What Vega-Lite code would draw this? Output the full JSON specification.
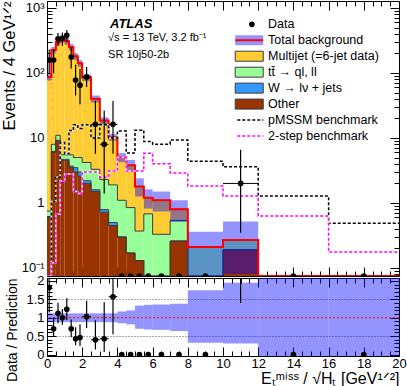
{
 "$schema": "https://vega.github.io/schema/vega-lite/v6.json",
 "padding": {"left": 0, "top": 0, "right": 0, "bottom": 0},
 "spacing": 2,
 "bounds": "flush",
 "config": {
  "font": "Liberation Sans",
  "view": {"stroke": "black", "strokeWidth": 1},
  "axis": {"labelFont": "Liberation Sans", "titleFont": "Liberation Sans", "labelFontSize": 13, "titleFontSize": 14, "titleFontWeight": "normal", "labelColor": "black", "titleColor": "black", "tickColor": "black", "domain": false, "grid": false, "labelFlush": false, "zindex": 1}
 },
 "datasets": {
  "bins": [
   {"i":0,"lo":0,"hi":0.25,"x":0.125,"data":158,"dlo":99,"dhi":229,"other":0.6,"wjets":0.02,"ttbar":0.13,"multijet":86.25,"blo":76.6,"bhi":97.4,"pm":0.05,"ts":0.05,"r":1.82,"rlo":1.14,"rhi":2.63,"rblo":0.88,"rbhi":1.12},
   {"i":1,"lo":0.25,"hi":0.5,"x":0.375,"data":158,"dlo":99,"dhi":229,"other":6,"wjets":0.2,"ttbar":1.8,"multijet":218,"blo":199,"bhi":253,"pm":1.05,"ts":0.12,"r":0.70,"rlo":0.49,"rhi":1.0,"rblo":0.88,"rbhi":1.12},
   {"i":2,"lo":0.5,"hi":0.75,"x":0.625,"data":335,"dlo":262,"dhi":413,"other":9,"wjets":0.2,"ttbar":1.8,"multijet":289,"blo":264,"bhi":336,"pm":2.5,"ts":0.67,"r":1.12,"rlo":0.85,"rhi":1.41,"rblo":0.88,"rbhi":1.12},
   {"i":3,"lo":0.75,"hi":1,"x":0.875,"data":340,"dlo":263,"dhi":419,"other":4.5,"wjets":0.2,"ttbar":0.8,"multijet":334.5,"blo":299,"bhi":381,"pm":8.5,"ts":2.2,"r":1.0,"rlo":0.81,"rhi":1.24,"rblo":0.88,"rbhi":1.12},
   {"i":4,"lo":1,"hi":1.25,"x":1.125,"data":380,"dlo":300,"dhi":460,"other":4.5,"wjets":0.2,"ttbar":0.8,"multijet":303.5,"blo":272,"bhi":346,"pm":5.7,"ts":2.8,"r":1.23,"rlo":0.94,"rhi":1.53,"rblo":0.88,"rbhi":1.12},
   {"i":5,"lo":1.25,"hi":1.5,"x":1.375,"data":176,"dlo":117,"dhi":246,"other":3.5,"wjets":0.2,"ttbar":1.8,"multijet":245.5,"blo":221,"bhi":281,"pm":13,"ts":2.8,"r":0.70,"rlo":0.47,"rhi":0.95,"rblo":0.88,"rbhi":1.12},
   {"i":6,"lo":1.5,"hi":1.75,"x":1.625,"data":78,"dlo":45,"dhi":134,"other":3.0,"wjets":0.5,"ttbar":1.5,"multijet":176,"blo":159,"bhi":203,"pm":16,"ts":1.5,"r":0.43,"rlo":0.25,"rhi":0.74,"rblo":0.88,"rbhi":1.12},
   {"i":7,"lo":1.75,"hi":2,"x":1.875,"data":65,"dlo":33,"dhi":115,"other":2.6,"wjets":0.4,"ttbar":2.0,"multijet":136,"blo":124,"bhi":158,"pm":14,"ts":1.4,"r":0.46,"rlo":0.23,"rhi":0.82,"rblo":0.88,"rbhi":1.12},
   {"i":8,"lo":2,"hi":2.5,"x":2.25,"data":87,"dlo":61,"dhi":124,"other":2.0,"wjets":0.2,"ttbar":2.0,"multijet":80.8,"blo":75,"bhi":95,"pm":16,"ts":3.0,"r":1.03,"rlo":0.72,"rhi":1.46,"rblo":0.88,"rbhi":1.12},
   {"i":9,"lo":2.5,"hi":3,"x":2.75,"data":16.2,"dlo":5.7,"dhi":37,"other":1.5,"wjets":0.1,"ttbar":1.7,"multijet":36.7,"blo":35,"bhi":45,"pm":10,"ts":3.0,"r":0.40,"rlo":0.14,"rhi":0.93,"rblo":0.88,"rbhi":1.12},
   {"i":10,"lo":3,"hi":3.5,"x":3.25,"data":8.0,"dlo":1.4,"dhi":26.4,"other":0.72,"wjets":0.07,"ttbar":1.5,"multijet":16.3,"blo":16.4,"bhi":20.8,"pm":16,"ts":2.5,"r":0.43,"rlo":0.07,"rhi":1.42,"rblo":0.88,"rbhi":1.12},
   {"i":11,"lo":3.5,"hi":4,"x":3.75,"data":16.2,"dlo":5.7,"dhi":37,"other":0.45,"wjets":0.05,"ttbar":1.4,"multijet":8.4,"blo":9.1,"bhi":11.5,"pm":10,"ts":3.1,"r":1.57,"rlo":0.55,"rhi":3.6,"rblo":0.88,"rbhi":1.12},
   {"i":12,"lo":4,"hi":4.5,"x":4.25,"data":0,"other":0.3,"wjets":0,"ttbar":0.8,"multijet":3.9,"blo":4.25,"bhi":5.85,"pm":12.8,"ts":5.0,"r":0,"rblo":0.85,"rbhi":1.17},
   {"i":13,"lo":4.5,"hi":5,"x":4.75,"data":0,"other":0.17,"wjets":0,"ttbar":0.68,"multijet":2.95,"blo":3.1,"bhi":4.6,"pm":5.9,"ts":3.1,"r":0,"rblo":0.82,"rbhi":1.2},
   {"i":14,"lo":5,"hi":5.5,"x":5.25,"data":0,"other":0.13,"wjets":0,"ttbar":0.24,"multijet":1.43,"blo":1.26,"bhi":2.4,"pm":13.2,"ts":3.1,"r":0,"rblo":0.7,"rbhi":1.33},
   {"i":15,"lo":5.5,"hi":6,"x":5.75,"data":0,"other":0,"wjets":0,"ttbar":0.68,"multijet":0.52,"blo":0.82,"bhi":1.62,"pm":8.8,"ts":5.8,"r":0,"rblo":0.68,"rbhi":1.35},
   {"i":16,"lo":6,"hi":7,"x":6.5,"data":0,"other":0,"wjets":0,"ttbar":0.33,"multijet":0.77,"blo":0.74,"bhi":1.5,"pm":8.0,"ts":4.0,"r":0,"rblo":0.67,"rbhi":1.36},
   {"i":17,"lo":7,"hi":8,"x":7.5,"data":0,"other":0.26,"wjets":0,"ttbar":0.28,"multijet":0.26,"blo":0.51,"bhi":1.1,"pm":9.3,"ts":2.9,"r":0,"rblo":0.64,"rbhi":1.38},
   {"i":18,"lo":8,"hi":10,"x":9,"data":0,"other":0,"wjets":0,"ttbar":0.21,"multijet":0,"blo":0.067,"bhi":0.36,"pm":4.4,"ts":1.83,"r":0,"rblo":0.32,"rbhi":1.75},
   {"i":19,"lo":10,"hi":12,"x":11,"data":2.0,"dlo":0.35,"dhi":6.6,"other":0.19,"wjets":0,"ttbar":0.08,"multijet":0,"blo":0.081,"bhi":0.52,"pm":3.6,"ts":1.28,"r":7.4,"rlo":1.4,"rhi":24,"rblo":0.3,"rbhi":1.95},
   {"i":20,"lo":12,"hi":16,"x":14,"data":0,"other":0,"wjets":0,"ttbar":0,"multijet":0,"pm":1.28,"ts":0.63,"r":0,"rblo":-0.05,"rbhi":2.2},
   {"i":21,"lo":16,"hi":20,"x":18,"data":0,"other":0,"wjets":0,"ttbar":0,"multijet":0,"pm":0.49,"ts":0.176,"r":0,"rblo":-0.05,"rbhi":2.2}
  ],
  "leg": [
   {"label": "Data"}, {"label": "Total background"}, {"label": "Multijet (=6-jet data)"}, {"label": "tt̄ → ql, ll"}, {"label": "W → lν + jets"}, {"label": "Other"}, {"label": "pMSSM benchmark"}, {"label": "2-step benchmark"}
  ]
 },
 "vconcat": [
  {
   "width": 352, "height": 275,
   "resolve": {"scale": {"y": "independent"}, "axis": {"x": "independent"}},
   "layer": [
    {
     "data": {"name": "bins"},
     "layer": [
      {
       "transform": [{"fold": ["other", "wjets", "ttbar", "multijet"], "as": ["comp", "val"]}, {"stack": "val", "groupby": ["i"], "as": ["v0", "v1"]}],
       "mark": {"type": "rect", "clip": true},
       "encoding": {
        "x": {"field": "lo", "type": "quantitative", "scale": {"domain": [0, 20], "nice": false, "zero": false},
         "axis": {"values": [0,2,4,6,8,10,12,14,16,18,20], "tickCount": 100, "labels": false, "title": null, "tickSize": -9}},
        "x2": {"field": "hi"},
        "y": {"field": "v1", "type": "quantitative", "scale": {"type": "log", "domain": [0.0753, 1281], "clamp": true, "nice": false},
         "axis": {"values": [0.1,1,10,100,1000], "tickCount": 100,
          "labelExpr": "datum.value == 1000 ? '10³' : datum.value == 100 ? '10²' : datum.value == 10 ? '10' : datum.value == 1 ? '1' : '10⁻¹'",
          "tickSize": -9, "labelPadding": 12, "title": "Events / 4 GeV¹ᐟ²", "titleFontSize": 16.5, "titleAnchor": "end", "titleX": -38, "titleBaseline": "middle", "titleAngle": -90}},
        "y2": {"field": "v0"},
        "fill": {"field": "comp", "type": "nominal", "scale": {"domain": ["other", "wjets", "ttbar", "multijet"], "range": ["#993300", "#3399ff", "#99ff99", "#ffcc33"]}, "legend": null}
       }
      },
      {
       "transform": [{"fold": ["other", "wjets", "ttbar", "multijet"], "as": ["comp", "val"]}, {"stack": "val", "groupby": ["i"], "as": ["v0", "v1"]}, {"fold": ["lo", "hi"], "as": ["edge", "xv"]}],
       "mark": {"type": "line", "clip": true, "stroke": "#3a3a3a", "strokeWidth": 1},
       "encoding": {"x": {"field": "xv", "type": "quantitative"}, "y": {"field": "v1", "type": "quantitative"}, "detail": {"field": "comp"}, "order": [{"field": "i", "type": "quantitative"}, {"field": "edge", "type": "nominal", "sort": "descending"}]}
      },
      {
       "transform": [{"filter": "isValid(datum.bhi)"}],
       "mark": {"type": "rect", "clip": true, "fill": "#0000ff", "fillOpacity": 0.42},
       "encoding": {"x": {"field": "lo", "type": "quantitative"}, "x2": {"field": "hi"}, "y": {"field": "blo", "type": "quantitative"}, "y2": {"field": "bhi"}}
      },
      {
       "transform": [{"fold": ["other", "wjets", "ttbar", "multijet"], "as": ["comp", "val"]}, {"stack": "val", "groupby": ["i"], "as": ["v0", "v1"]}, {"filter": "datum.comp == 'multijet'"}, {"fold": ["lo", "hi"], "as": ["edge", "xv"]}],
       "mark": {"type": "line", "clip": true, "stroke": "#ff0000", "strokeWidth": 2},
       "encoding": {"x": {"field": "xv", "type": "quantitative"}, "y": {"field": "v1", "type": "quantitative"}, "order": [{"field": "i", "type": "quantitative"}, {"field": "edge", "type": "nominal", "sort": "descending"}]}
      },
      {
       "transform": [{"fold": ["lo", "hi"], "as": ["edge", "xv"]}],
       "mark": {"type": "line", "clip": true, "stroke": "white", "strokeWidth": 1.5},
       "encoding": {"x": {"field": "xv", "type": "quantitative"}, "y": {"field": "pm", "type": "quantitative"}, "order": [{"field": "i", "type": "quantitative"}, {"field": "edge", "type": "nominal", "sort": "descending"}]}
      },
      {
       "transform": [{"fold": ["lo", "hi"], "as": ["edge", "xv"]}],
       "mark": {"type": "line", "clip": true, "stroke": "black", "strokeWidth": 1.5, "strokeDash": [3, 2]},
       "encoding": {"x": {"field": "xv", "type": "quantitative"}, "y": {"field": "pm", "type": "quantitative"}, "order": [{"field": "i", "type": "quantitative"}, {"field": "edge", "type": "nominal", "sort": "descending"}]}
      },
      {
       "transform": [{"fold": ["lo", "hi"], "as": ["edge", "xv"]}],
       "mark": {"type": "line", "clip": true, "stroke": "white", "strokeWidth": 1.5},
       "encoding": {"x": {"field": "xv", "type": "quantitative"}, "y": {"field": "ts", "type": "quantitative"}, "order": [{"field": "i", "type": "quantitative"}, {"field": "edge", "type": "nominal", "sort": "descending"}]}
      },
      {
       "transform": [{"fold": ["lo", "hi"], "as": ["edge", "xv"]}],
       "mark": {"type": "line", "clip": true, "stroke": "#ff00ff", "strokeWidth": 1.5, "strokeDash": [3, 2]},
       "encoding": {"x": {"field": "xv", "type": "quantitative"}, "y": {"field": "ts", "type": "quantitative"}, "order": [{"field": "i", "type": "quantitative"}, {"field": "edge", "type": "nominal", "sort": "descending"}]}
      },
      {
       "transform": [{"filter": "datum.data > 0"}],
       "mark": {"type": "rule", "clip": true, "stroke": "black", "strokeWidth": 1},
       "encoding": {"x": {"field": "lo", "type": "quantitative"}, "x2": {"field": "hi"}, "y": {"field": "data", "type": "quantitative"}}
      },
      {
       "transform": [{"filter": "isValid(datum.dlo)"}],
       "mark": {"type": "rule", "clip": true, "stroke": "black", "strokeWidth": 1.2},
       "encoding": {"x": {"field": "x", "type": "quantitative"}, "y": {"field": "dlo", "type": "quantitative"}, "y2": {"field": "dhi"}}
      },
      {
       "mark": {"type": "point", "clip": true, "filled": true, "fill": "black", "opacity": 1, "size": 32, "shape": "circle"},
       "encoding": {"x": {"field": "x", "type": "quantitative"}, "y": {"field": "data", "type": "quantitative"}}
      },
      {
       "data": {"values": [{}]},
       "mark": {"type": "text", "text": "ATLAS", "fontWeight": "bold", "fontStyle": "italic", "fontSize": 13, "align": "left", "baseline": "alphabetic"},
       "encoding": {"x": {"datum": 3.58, "type": "quantitative"}, "y": {"datum": 497, "type": "quantitative"}}
      },
      {
       "data": {"values": [{}]},
       "mark": {"type": "text", "text": "√s = 13 TeV, 3.2 fb⁻¹", "fontSize": 11, "align": "left", "baseline": "alphabetic"},
       "encoding": {"x": {"datum": 3.47, "type": "quantitative"}, "y": {"datum": 309, "type": "quantitative"}}
      },
      {
       "data": {"values": [{}]},
       "mark": {"type": "text", "text": "SR 10j50-2b", "fontSize": 11, "align": "left", "baseline": "alphabetic"},
       "encoding": {"x": {"datum": 3.47, "type": "quantitative"}, "y": {"datum": 170, "type": "quantitative"}}
      }
     ]
    },
    {
     "data": {"name": "leg"},
     "layer": [
      {
       "mark": {"type": "text", "align": "left", "baseline": "middle", "fontSize": 12.5},
       "encoding": {"x": {"datum": 12.56, "type": "quantitative", "axis": null}, "y": {"field": "label", "type": "nominal", "scale": {"type": "point", "domain": ["Data", "Total background", "Multijet (=6-jet data)", "tt̄ → ql, ll", "W → lν + jets", "Other", "pMSSM benchmark", "2-step benchmark"], "range": [23.3, 135], "padding": 0}, "axis": null}, "text": {"field": "label"}}
      },
      {
       "transform": [{"filter": "datum.label == 'Data'"}],
       "mark": {"type": "point", "filled": true, "fill": "black", "opacity": 1, "size": 32, "shape": "circle"},
       "encoding": {"x": {"datum": 11.64, "type": "quantitative", "axis": null}, "y": {"field": "label", "type": "nominal"}}
      },
      {
       "transform": [{"filter": "datum.label == 'Total background'"}],
       "mark": {"type": "point", "filled": true, "fill": "#0000ff", "fillOpacity": 0.42, "opacity": 1, "strokeWidth": 0, "size": 784, "shape": "M-1,-0.357L1,-0.357L1,0.357L-1,0.357Z"},
       "encoding": {"x": {"datum": 11.49, "type": "quantitative", "axis": null}, "y": {"field": "label", "type": "nominal"}}
      },
      {
       "transform": [{"filter": "datum.label == 'Total background'"}],
       "mark": {"type": "point", "filled": false, "stroke": "#ff0000", "opacity": 1, "strokeWidth": 2, "size": 784, "shape": "M-1,0L1,0"},
       "encoding": {"x": {"datum": 11.49, "type": "quantitative", "axis": null}, "y": {"field": "label", "type": "nominal"}}
      },
      {
       "transform": [{"filter": "datum.label == 'Multijet (=6-jet data)'"}],
       "mark": {"type": "point", "filled": true, "fill": "#ffcc33", "stroke": "#3a3a3a", "strokeWidth": 1, "opacity": 1, "size": 784, "shape": "M-1,-0.357L1,-0.357L1,0.357L-1,0.357Z"},
       "encoding": {"x": {"datum": 11.49, "type": "quantitative", "axis": null}, "y": {"field": "label", "type": "nominal"}}
      },
      {
       "transform": [{"filter": "datum.label == 'tt̄ → ql, ll'"}],
       "mark": {"type": "point", "filled": true, "fill": "#99ff99", "stroke": "#3a3a3a", "strokeWidth": 1, "opacity": 1, "size": 784, "shape": "M-1,-0.357L1,-0.357L1,0.357L-1,0.357Z"},
       "encoding": {"x": {"datum": 11.49, "type": "quantitative", "axis": null}, "y": {"field": "label", "type": "nominal"}}
      },
      {
       "transform": [{"filter": "datum.label == 'W → lν + jets'"}],
       "mark": {"type": "point", "filled": true, "fill": "#3399ff", "stroke": "#3a3a3a", "strokeWidth": 1, "opacity": 1, "size": 784, "shape": "M-1,-0.357L1,-0.357L1,0.357L-1,0.357Z"},
       "encoding": {"x": {"datum": 11.49, "type": "quantitative", "axis": null}, "y": {"field": "label", "type": "nominal"}}
      },
      {
       "transform": [{"filter": "datum.label == 'Other'"}],
       "mark": {"type": "point", "filled": true, "fill": "#993300", "stroke": "#3a3a3a", "strokeWidth": 1, "opacity": 1, "size": 784, "shape": "M-1,-0.357L1,-0.357L1,0.357L-1,0.357Z"},
       "encoding": {"x": {"datum": 11.49, "type": "quantitative", "axis": null}, "y": {"field": "label", "type": "nominal"}}
      },
      {
       "transform": [{"filter": "datum.label == 'pMSSM benchmark'"}],
       "mark": {"type": "point", "filled": false, "stroke": "black", "strokeDash": [3, 2], "opacity": 1, "strokeWidth": 1.5, "size": 676, "shape": "M-1,0L1,0"},
       "encoding": {"x": {"datum": 11.55, "type": "quantitative", "axis": null}, "y": {"field": "label", "type": "nominal"}}
      },
      {
       "transform": [{"filter": "datum.label == '2-step benchmark'"}],
       "mark": {"type": "point", "filled": false, "stroke": "#ff00ff", "strokeDash": [3, 2], "opacity": 1, "strokeWidth": 1.5, "size": 676, "shape": "M-1,0L1,0"},
       "encoding": {"x": {"datum": 11.55, "type": "quantitative", "axis": null}, "y": {"field": "label", "type": "nominal"}}
      }
     ]
    },
    {
     "data": {"values": [{}]},
     "mark": {"type": "point", "opacity": 0},
     "encoding": {
      "x": {"datum": 1, "type": "quantitative", "axis": {"orient": "top", "values": [0,2,4,6,8,10,12,14,16,18,20], "tickCount": 100, "labels": false, "title": null, "tickSize": -9}},
      "y": {"datum": 1, "type": "quantitative", "scale": {"type": "log", "domain": [0.0753, 1281], "nice": false},
       "axis": {"orient": "right", "values": [0.1,1,10,100,1000], "tickCount": 100, "labels": false, "title": null, "tickSize": -9}}
     }
    },
    {
     "data": {"values": [{}]},
     "mark": {"type": "point", "opacity": 0},
     "encoding": {
      "x": {"datum": 1, "type": "quantitative", "axis": {"orient": "bottom", "values": [0.5,1,1.5,2.5,3,3.5,4.5,5,5.5,6.5,7,7.5,8.5,9,9.5,10.5,11,11.5,12.5,13,13.5,14.5,15,15.5,16.5,17,17.5,18.5,19,19.5], "tickCount": 100, "labels": false, "title": null, "tickSize": -5}},
      "y": {"datum": 1, "type": "quantitative", "scale": {"type": "log", "domain": [0.0753, 1281], "nice": false},
       "axis": {"orient": "left", "values": [0.08,0.09,0.2,0.3,0.4,0.5,0.6,0.7,0.8,0.9,2,3,4,5,6,7,8,9,20,30,40,50,60,70,80,90,200,300,400,500,600,700,800,900], "tickCount": 100, "labels": false, "title": null, "tickSize": -5}}
     }
    },
    {
     "data": {"values": [{}]},
     "mark": {"type": "point", "opacity": 0},
     "encoding": {
      "x": {"datum": 1, "type": "quantitative", "axis": {"orient": "top", "values": [0.5,1,1.5,2.5,3,3.5,4.5,5,5.5,6.5,7,7.5,8.5,9,9.5,10.5,11,11.5,12.5,13,13.5,14.5,15,15.5,16.5,17,17.5,18.5,19,19.5], "tickCount": 100, "labels": false, "title": null, "tickSize": -5}},
      "y": {"datum": 1, "type": "quantitative", "scale": {"type": "log", "domain": [0.0753, 1281], "nice": false},
       "axis": {"orient": "right", "values": [0.08,0.09,0.2,0.3,0.4,0.5,0.6,0.7,0.8,0.9,2,3,4,5,6,7,8,9,20,30,40,50,60,70,80,90,200,300,400,500,600,700,800,900], "tickCount": 100, "labels": false, "title": null, "tickSize": -5}}
     }
    }
   ]
  },
  {
   "width": 352, "height": 78,
   "resolve": {"scale": {"y": "independent"}, "axis": {"x": "independent"}},
   "layer": [
    {
     "data": {"name": "bins"},
     "layer": [
      {
       "transform": [{"filter": "isValid(datum.rbhi)"}],
       "mark": {"type": "rect", "clip": true, "fill": "#0000ff", "fillOpacity": 0.42},
       "encoding": {
        "x": {"field": "lo", "type": "quantitative", "scale": {"domain": [0, 20], "nice": false, "zero": false},
         "axis": {"values": [0,2,4,6,8,10,12,14,16,18,20], "tickCount": 100, "format": "d", "labelPadding": 10, "tickSize": -9,
          "title": "Eₜᵐⁱˢˢ  /  √Hₜ  [GeV¹ᐟ²]", "titleFontSize": 16, "titleAnchor": "end", "titleY": 27, "titleBaseline": "alphabetic"}},
        "x2": {"field": "hi"},
        "y": {"field": "rblo", "type": "quantitative", "scale": {"domain": [-0.04, 2.08], "nice": false, "zero": false},
         "axis": {"values": [0,0.5,1,1.5,2], "tickCount": 100,
          "labelExpr": "datum.value == 0 ? '0' : datum.value == 0.5 ? '0.5' : datum.value == 1 ? '1' : datum.value == 1.5 ? '1.5' : '2'",
          "tickSize": -9, "labelPadding": 12, "grid": true, "gridColor": "#555555", "gridDash": [1, 2],
          "gridOpacity": {"condition": {"test": "datum.value == 0.5 || datum.value == 1.5", "value": 1}, "value": 0},
          "title": "Data / Prediction", "titleAnchor": "end", "titleX": -34.5, "titleBaseline": "middle", "titleAngle": -90}},
        "y2": {"field": "rbhi"}
       }
      },
      {
       "data": {"values": [{}]},
       "mark": {"type": "rule", "stroke": "#ff0000", "strokeDash": [2, 2], "strokeWidth": 1.2},
       "encoding": {"y": {"datum": 1, "type": "quantitative"}}
      },
      {
       "transform": [{"filter": "datum.r > 0 && datum.r < 3"}],
       "mark": {"type": "rule", "clip": true, "stroke": "black", "strokeWidth": 1},
       "encoding": {"x": {"field": "lo", "type": "quantitative"}, "x2": {"field": "hi"}, "y": {"field": "r", "type": "quantitative"}}
      },
      {
       "transform": [{"filter": "isValid(datum.rlo)"}],
       "mark": {"type": "rule", "clip": true, "stroke": "black", "strokeWidth": 1.2},
       "encoding": {"x": {"field": "x", "type": "quantitative"}, "y": {"field": "rlo", "type": "quantitative"}, "y2": {"field": "rhi"}}
      },
      {
       "mark": {"type": "point", "clip": true, "filled": true, "fill": "black", "opacity": 1, "size": 32, "shape": "circle"},
       "encoding": {"x": {"field": "x", "type": "quantitative"}, "y": {"field": "r", "type": "quantitative"}}
      }
     ]
    },
    {
     "data": {"values": [{}]},
     "mark": {"type": "point", "opacity": 0},
     "encoding": {
      "x": {"datum": 1, "type": "quantitative", "axis": {"orient": "top", "values": [0,2,4,6,8,10,12,14,16,18,20], "tickCount": 100, "labels": false, "title": null, "tickSize": -9}},
      "y": {"datum": 1, "type": "quantitative", "scale": {"domain": [-0.04, 2.08], "nice": false, "zero": false},
       "axis": {"orient": "right", "values": [0,0.5,1,1.5,2], "tickCount": 100, "labels": false, "title": null, "tickSize": -9}}
     }
    },
    {
     "data": {"values": [{}]},
     "mark": {"type": "point", "opacity": 0},
     "encoding": {
      "x": {"datum": 1, "type": "quantitative", "axis": {"orient": "bottom", "values": [0.5,1,1.5,2.5,3,3.5,4.5,5,5.5,6.5,7,7.5,8.5,9,9.5,10.5,11,11.5,12.5,13,13.5,14.5,15,15.5,16.5,17,17.5,18.5,19,19.5], "tickCount": 100, "labels": false, "title": null, "tickSize": -5}},
      "y": {"datum": 1, "type": "quantitative", "scale": {"domain": [-0.04, 2.08], "nice": false, "zero": false},
       "axis": {"orient": "left", "values": [0.1,0.2,0.3,0.4,0.6,0.7,0.8,0.9,1.1,1.2,1.3,1.4,1.6,1.7,1.8,1.9], "tickCount": 100, "labels": false, "title": null, "tickSize": -5}}
     }
    },
    {
     "data": {"values": [{}]},
     "mark": {"type": "point", "opacity": 0},
     "encoding": {
      "x": {"datum": 1, "type": "quantitative", "axis": {"orient": "top", "values": [0.5,1,1.5,2.5,3,3.5,4.5,5,5.5,6.5,7,7.5,8.5,9,9.5,10.5,11,11.5,12.5,13,13.5,14.5,15,15.5,16.5,17,17.5,18.5,19,19.5], "tickCount": 100, "labels": false, "title": null, "tickSize": -5}},
      "y": {"datum": 1, "type": "quantitative", "scale": {"domain": [-0.04, 2.08], "nice": false, "zero": false},
       "axis": {"orient": "right", "values": [0.1,0.2,0.3,0.4,0.6,0.7,0.8,0.9,1.1,1.2,1.3,1.4,1.6,1.7,1.8,1.9], "tickCount": 100, "labels": false, "title": null, "tickSize": -5}}
     }
    }
   ]
  }
 ]
}
